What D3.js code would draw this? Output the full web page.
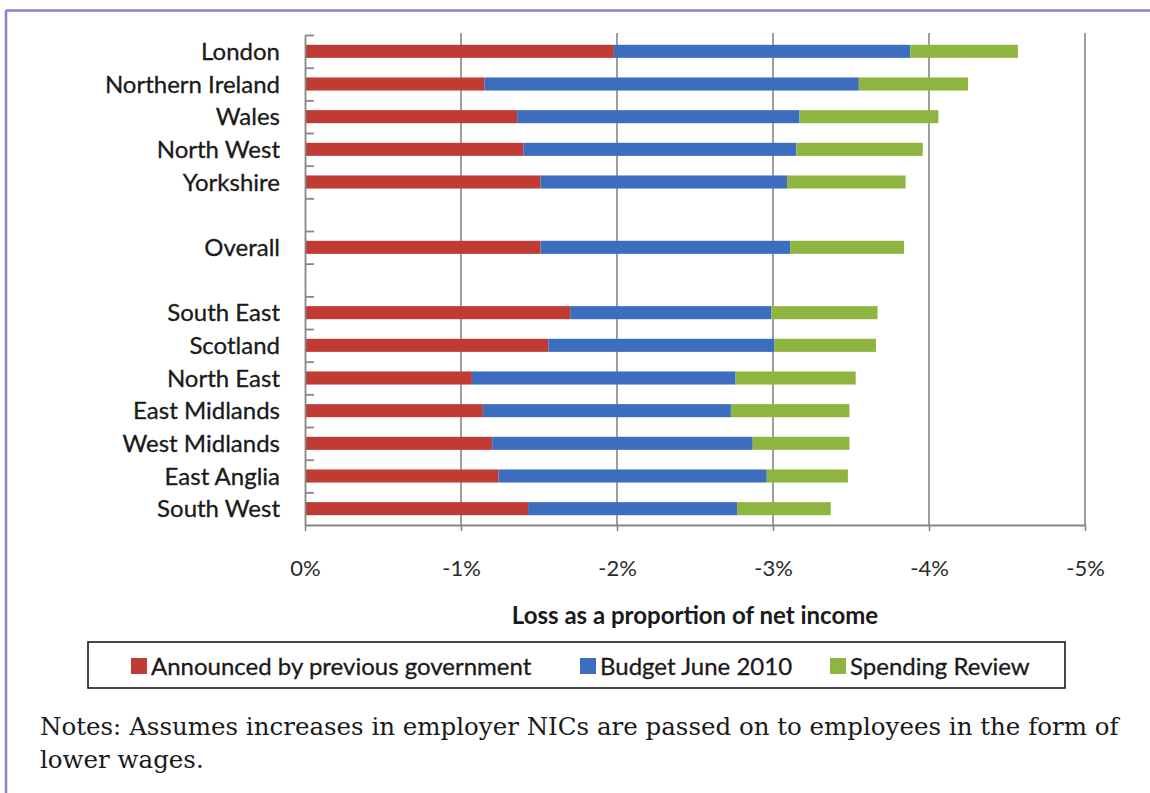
<!DOCTYPE html>
<html>
<head>
<meta charset="utf-8">
<script src="https://cdn.jsdelivr.net/npm/d3@7"></script>
<style>
  html, body { margin: 0; padding: 0; background: #ffffff; }
  svg { display: block; }
</style>
</head>
<body>
<svg id="chart" width="1150" height="793"></svg>
<script>
// Rows from top to bottom; null marks an empty spacer row
const rows = ["London", "Northern Ireland", "Wales", "North West", "Yorkshire", null,
              "Overall", null,
              "South East", "Scotland", "North East", "East Midlands", "West Midlands",
              "East Anglia", "South West"];

const regions = ["London", "Northern Ireland", "Wales", "North West", "Yorkshire", "Overall",
                 "South East", "Scotland", "North East", "East Midlands", "West Midlands",
                 "East Anglia", "South West"];

// Loss as % of net income, by measure (each series adds to the previous one)
const previousGovernment = [-1.98, -1.15, -1.36, -1.40, -1.51, -1.51, -1.70, -1.56, -1.07, -1.14, -1.20, -1.24, -1.43];
const budgetJune2010     = [-1.90, -2.40, -1.81, -1.75, -1.58, -1.60, -1.29, -1.45, -1.69, -1.59, -1.67, -1.72, -1.34];
const spendingReview     = [-0.69, -0.70, -0.89, -0.81, -0.76, -0.73, -0.68, -0.65, -0.77, -0.76, -0.62, -0.52, -0.60];

const seriesNames = ["Announced by previous government", "Budget June 2010", "Spending Review"];
const seriesColors = ["#bf3b33", "#3c6dbf", "#8db53f"];

const xTicks = [0, -1, -2, -3, -4, -5];
const axisTitle = "Loss as a proportion of net income";
const noteLines = [
  "Notes: Assumes increases in employer NICs are passed on to employees in the form of",
  "lower wages."
];

const svg = d3.select("#chart");
const sansFont = "Lato, 'Open Sans', sans-serif";

// Page frame (left and top rules)
svg.append("line").attr("x1", 6).attr("x2", 6).attr("y1", 10).attr("y2", 793)
  .attr("stroke", "#8585cc").attr("stroke-width", 2.5);
svg.append("line").attr("x1", 6).attr("x2", 1150).attr("y1", 10.5).attr("y2", 10.5)
  .attr("stroke", "#8585cc").attr("stroke-width", 2.5);

// Scales
const plot = { left: 305, right: 1085, top: 35, bottom: 525 };
const x = d3.scaleLinear().domain([0, -5]).range([plot.left, plot.right]);
const y = d3.scaleBand().domain(d3.range(rows.length)).range([plot.top, plot.bottom]);
const yEdge = d3.scaleLinear().domain([0, rows.length]).range([plot.top, plot.bottom]);
const barH = y.bandwidth() * 0.4;

// Table for stacking
const keys = ["prev", "budget", "spending"];
const table = regions.map((r, i) => ({
  region: r,
  row: rows.indexOf(r),
  prev: previousGovernment[i],
  budget: budgetJune2010[i],
  spending: spendingReview[i]
}));
const stacked = d3.stack().keys(keys).offset(d3.stackOffsetDiverging)(table);

// Vertical gridlines
svg.append("g").selectAll("line")
  .data(xTicks.filter(d => d !== 0))
  .join("line")
  .attr("x1", d => x(d)).attr("x2", d => x(d))
  .attr("y1", plot.top - 2).attr("y2", plot.bottom)
  .attr("stroke", "#868686").attr("stroke-width", 1.6);

// Bars
svg.append("g").selectAll("g")
  .data(stacked)
  .join("g")
  .attr("fill", (d, i) => seriesColors[i])
  .selectAll("rect")
  .data(d => d)
  .join("rect")
  .attr("x", d => x(d[1]))
  .attr("width", d => x(d[0]) - x(d[1]))
  .attr("y", d => y(d.data.row) + (y.bandwidth() - barH) / 2)
  .attr("height", barH);

// Category axis: line with inward ticks at row boundaries
const yAxis = svg.append("g")
  .attr("transform", `translate(${plot.left},0)`)
  .call(d3.axisRight(yEdge).tickValues(d3.range(rows.length)).tickSize(9).tickSizeOuter(0).tickFormat(""));
yAxis.select(".domain").attr("stroke", "#868686").attr("stroke-width", 1.8);
yAxis.selectAll(".tick line").attr("stroke", "#868686").attr("stroke-width", 1.8);

// Category labels
svg.append("g").selectAll("text")
  .data(rows.map((r, i) => ({ r, i })).filter(d => d.r))
  .join("text")
  .attr("x", 280)
  .attr("y", d => y(d.i) + y.bandwidth() / 2)
  .attr("dy", "0.36em")
  .attr("text-anchor", "end")
  .attr("font-family", sansFont)
  .attr("font-size", 24)
  .attr("fill", "#1a1a1a")
  .attr("stroke", "#1a1a1a").attr("stroke-width", 0.3)
  .text(d => d.r);

// Value axis
const xAxis = svg.append("g")
  .attr("transform", `translate(0,${plot.bottom})`)
  .call(d3.axisBottom(x).tickValues(xTicks).tickSize(6).tickSizeOuter(0).tickPadding(29)
    .tickFormat(d => `${d}%`));
xAxis.select(".domain").attr("stroke", "#868686").attr("stroke-width", 1.8);
xAxis.selectAll(".tick line").attr("stroke", "#868686").attr("stroke-width", 1.6);
xAxis.selectAll(".tick text")
  .attr("font-family", sansFont)
  .attr("font-size", 22)
  .attr("fill", "#2a2a2a");

// Axis title
svg.append("text")
  .attr("x", (plot.left + plot.right) / 2)
  .attr("y", 624)
  .attr("text-anchor", "middle")
  .attr("font-family", sansFont)
  .attr("font-weight", "bold")
  .attr("font-size", 24)
  .attr("fill", "#1a1a1a")
  .text(axisTitle);

// Legend
const legend = svg.append("g");
legend.append("rect")
  .attr("x", 88).attr("y", 642).attr("width", 977).attr("height", 46)
  .attr("fill", "none").attr("stroke", "#1a1a1a").attr("stroke-width", 1.6);
const legendX = [131, 580, 830];
const items = legend.selectAll("g.item")
  .data(seriesNames)
  .join("g")
  .attr("class", "item")
  .attr("transform", (d, i) => `translate(${legendX[i]},0)`);
items.append("rect")
  .attr("x", 0).attr("y", 658).attr("width", 16).attr("height", 16)
  .attr("fill", (d, i) => seriesColors[i]);
items.append("text")
  .attr("x", 20).attr("y", 666).attr("dy", "0.36em")
  .attr("font-family", sansFont)
  .attr("font-size", 24)
  .attr("fill", "#1a1a1a")
  .attr("stroke", "#1a1a1a").attr("stroke-width", 0.3)
  .text(d => d);

// Notes
svg.append("g").selectAll("text")
  .data(noteLines)
  .join("text")
  .attr("x", 40)
  .attr("y", (d, i) => 735 + i * 33)
  .attr("font-family", "'DejaVu Serif', 'Liberation Serif', serif")
  .attr("font-size", 24.5)
  .attr("fill", "#1a1a1a")
  .text(d => d);
</script>
</body>
</html>
